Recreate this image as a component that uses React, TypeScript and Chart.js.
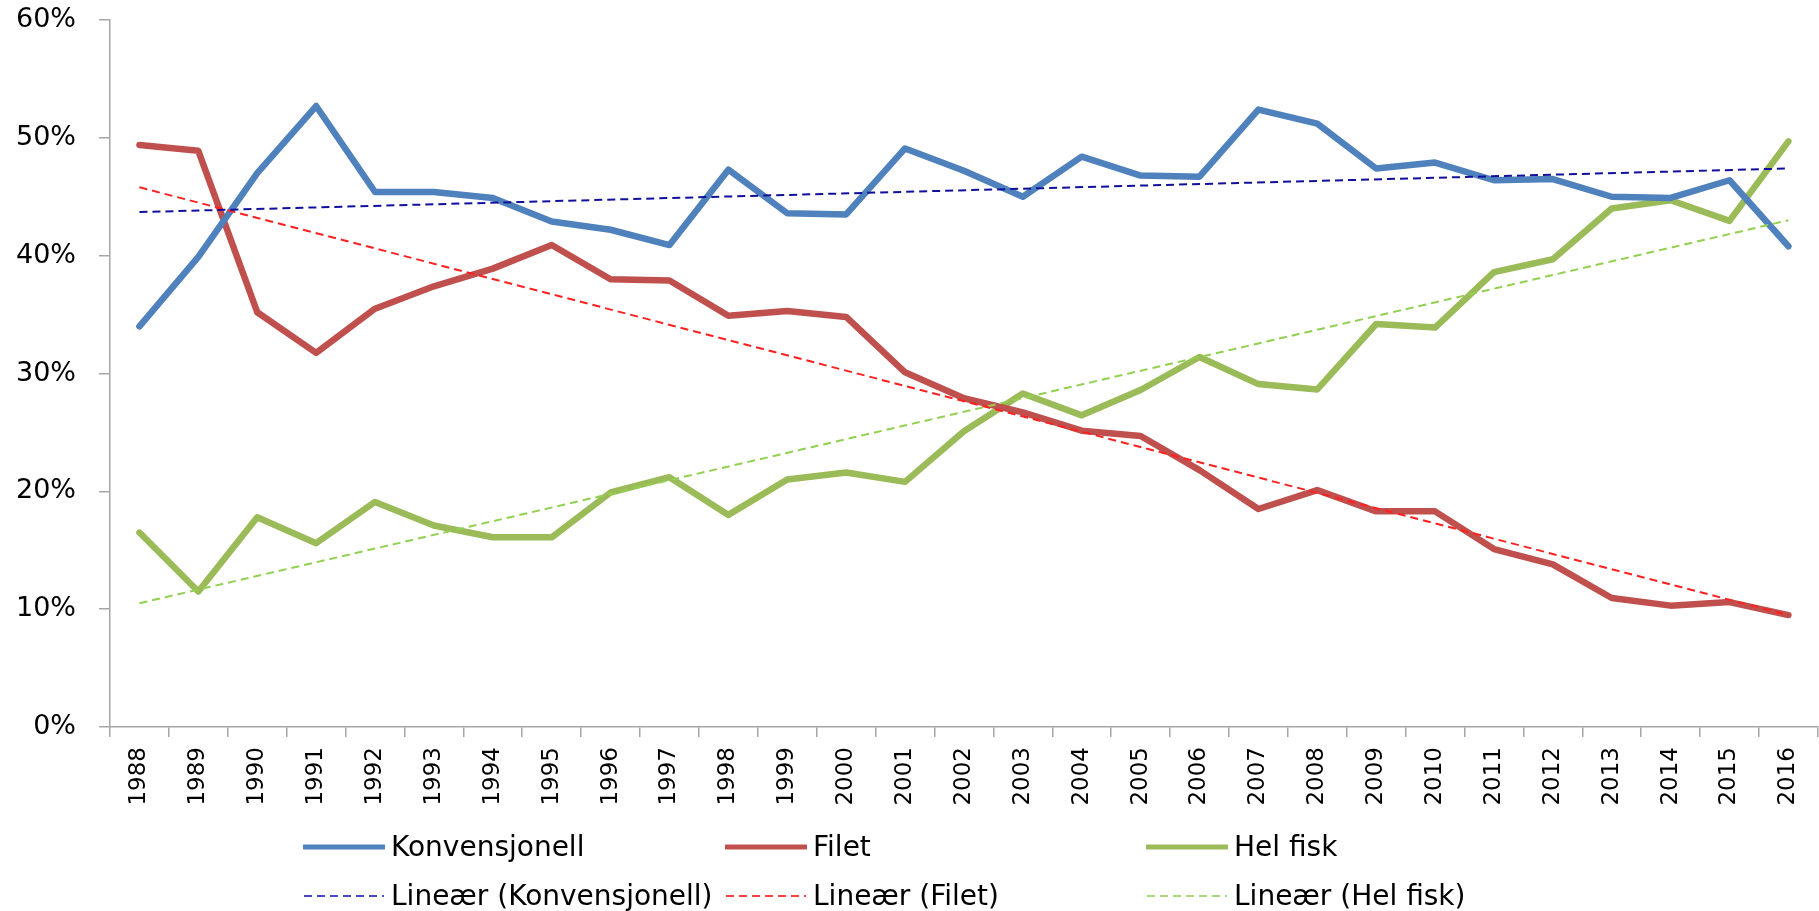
import React, { useEffect, useRef } from "react";
import { Chart, registerables } from "chart.js";

Chart.register(...registerables);

const years = [
  "1988", "1989", "1990", "1991", "1992", "1993", "1994", "1995", "1996", "1997",
  "1998", "1999", "2000", "2001", "2002", "2003", "2004", "2005", "2006", "2007",
  "2008", "2009", "2010", "2011", "2012", "2013", "2014", "2015", "2016",
];

const konvensjonell = [
  34.0, 39.9, 47.0, 52.7, 45.4, 45.4, 44.9, 42.9, 42.2, 40.9,
  47.3, 43.6, 43.5, 49.1, 47.2, 45.0, 48.4, 46.8, 46.7, 52.4,
  51.2, 47.4, 47.9, 46.4, 46.5, 45.0, 44.9, 46.4, 40.8,
];

const filet = [
  49.4, 48.9, 35.2, 31.75, 35.5, 37.4, 38.9, 40.9, 38.0, 37.9,
  34.9, 35.3, 34.8, 30.1, 27.9, 26.7, 25.15, 24.7, 21.8, 18.5,
  20.1, 18.3, 18.3, 15.1, 13.8, 10.95, 10.3, 10.6, 9.5,
];

const helFisk = [
  16.5, 11.5, 17.8, 15.6, 19.1, 17.1, 16.1, 16.1, 19.9, 21.2,
  18.0, 21.0, 21.6, 20.8, 25.1, 28.3, 26.45, 28.6, 31.4, 29.1,
  28.65, 34.2, 33.9, 38.6, 39.7, 44.0, 44.7, 42.95, 49.7,
];

// Trendline endpoints (first year, last year)
const trendKonvensjonell = [43.7, 47.4];
const trendFilet = [45.8, 9.5];
const trendHelFisk = [10.5, 43.0];

const yTicks = [0, 10, 20, 30, 40, 50, 60];

const COLORS = {
  konv: "#4F81BD",
  filet: "#C0504D",
  hel: "#9BBB59",
  konvTrend: "#10109C",
  filetTrend: "#FF2020",
  helTrend: "#92D050",
  axis: "#A6A6A6",
};

const FONT = "'DejaVu Sans', Verdana, sans-serif";

function endpoints(ends: number[]) {
  const last = years.length - 1;
  return years.map((_, i) => (i === 0 ? ends[0] : i === last ? ends[1] : null));
}

const legendItems = [
  { label: "Konvensjonell", color: COLORS.konv, dashed: false, col: 0, row: 0 },
  { label: "Filet", color: COLORS.filet, dashed: false, col: 1, row: 0 },
  { label: "Hel fisk", color: COLORS.hel, dashed: false, col: 2, row: 0 },
  { label: "Lineær (Konvensjonell)", color: "#4848C8", dashed: true, col: 0, row: 1 },
  { label: "Lineær (Filet)", color: "#FF4040", dashed: true, col: 1, row: 1 },
  { label: "Lineær (Hel fisk)", color: "#A8DA78", dashed: true, col: 2, row: 1 },
];

const colX = [303, 725, 1146];
const rowY = [846.5, 896];

export default function App() {
  const canvasRef = useRef<HTMLCanvasElement | null>(null);

  useEffect(() => {
    const canvas = canvasRef.current;
    if (!canvas) return;
    const mainLine = (label: string, data: number[], color: string) => ({
      label,
      data,
      borderColor: color,
      backgroundColor: color,
      borderWidth: 6.5,
      pointRadius: 0,
      tension: 0,
      fill: false,
      borderJoinStyle: "round" as const,
      borderCapStyle: "round" as const,
      order: 2,
    });
    const trendLine = (label: string, ends: number[], color: string) => ({
      label,
      data: endpoints(ends),
      borderColor: color,
      backgroundColor: color,
      borderWidth: 2,
      borderDash: [8, 5],
      pointRadius: 0,
      spanGaps: true,
      fill: false,
      order: 1,
    });

    const chart = new Chart(canvas, {
      type: "line",
      data: {
        labels: years,
        datasets: [
          mainLine("Konvensjonell", konvensjonell, COLORS.konv),
          mainLine("Filet", filet, COLORS.filet),
          mainLine("Hel fisk", helFisk, COLORS.hel),
          trendLine("Lineær (Konvensjonell)", trendKonvensjonell, COLORS.konvTrend),
          trendLine("Lineær (Filet)", trendFilet, COLORS.filetTrend),
          trendLine("Lineær (Hel fisk)", trendHelFisk, COLORS.helTrend),
        ] as any,
      },
      options: {
        responsive: false,
        animation: false,
        devicePixelRatio: 1,
        layout: { padding: { top: 20, left: 0, right: 0, bottom: 0 } },
        plugins: {
          legend: { display: false },
          tooltip: { enabled: false },
          title: { display: false },
        },
        scales: {
          x: {
            type: "category",
            offset: true,
            grid: {
              offset: true,
              drawOnChartArea: false,
              drawTicks: true,
              tickLength: 10,
              color: COLORS.axis,
              lineWidth: 1.5,
            },
            border: { color: COLORS.axis, width: 1.5 },
            ticks: {
              autoSkip: false,
              minRotation: 90,
              maxRotation: 90,
              padding: 10,
              color: "#000",
              font: { family: FONT, size: 23 },
            },
            afterFit: (scale: any) => {
              scale.height = 184;
            },
          },
          y: {
            type: "linear",
            min: 0,
            max: 60,
            afterBuildTicks: (scale: any) => {
              scale.ticks = yTicks.map((v) => ({ value: v }));
            },
            grid: {
              drawOnChartArea: false,
              drawTicks: true,
              tickLength: 11,
              color: COLORS.axis,
              lineWidth: 1.5,
            },
            border: { color: COLORS.axis, width: 1.5 },
            ticks: {
              padding: 23,
              color: "#000",
              font: { family: FONT, size: 27 },
              callback: (v: any) => `${v}%`,
            },
            afterFit: (scale: any) => {
              scale.width = 110;
              scale.paddingTop = 16;
              scale.paddingBottom = 16;
            },
          },
        },
      },
    });
    return () => chart.destroy();
  }, []);

  return (
    <div
      style={{
        position: "fixed",
        left: 0,
        top: 0,
        width: 1819,
        height: 911,
        overflow: "hidden",
        background: "#fff",
      }}
    >
      <canvas
        ref={canvasRef}
        width={1826}
        height={911}
        style={{ position: "absolute", left: 0, top: 0, width: 1826, height: 911 }}
      />
      {legendItems.map((it) => {
        const left = colX[it.col];
        const cy = rowY[it.row];
        return (
          <React.Fragment key={it.label}>
            <svg
              width={82}
              height={12}
              style={{ position: "absolute", left, top: cy - 6 }}
            >
              <line
                x1={1}
                y1={6}
                x2={81}
                y2={6}
                stroke={it.color}
                strokeWidth={it.dashed ? 2 : 5}
                strokeDasharray={it.dashed ? "8 5" : undefined}
                strokeLinecap={it.dashed ? "butt" : "round"}
              />
            </svg>
            <div
              style={{
                position: "absolute",
                left: left + 88,
                top: cy - 16,
                fontFamily: FONT,
                fontSize: 28,
                lineHeight: "32px",
                color: "#000",
                whiteSpace: "nowrap",
              }}
            >
              {it.label}
            </div>
          </React.Fragment>
        );
      })}
    </div>
  );
}
